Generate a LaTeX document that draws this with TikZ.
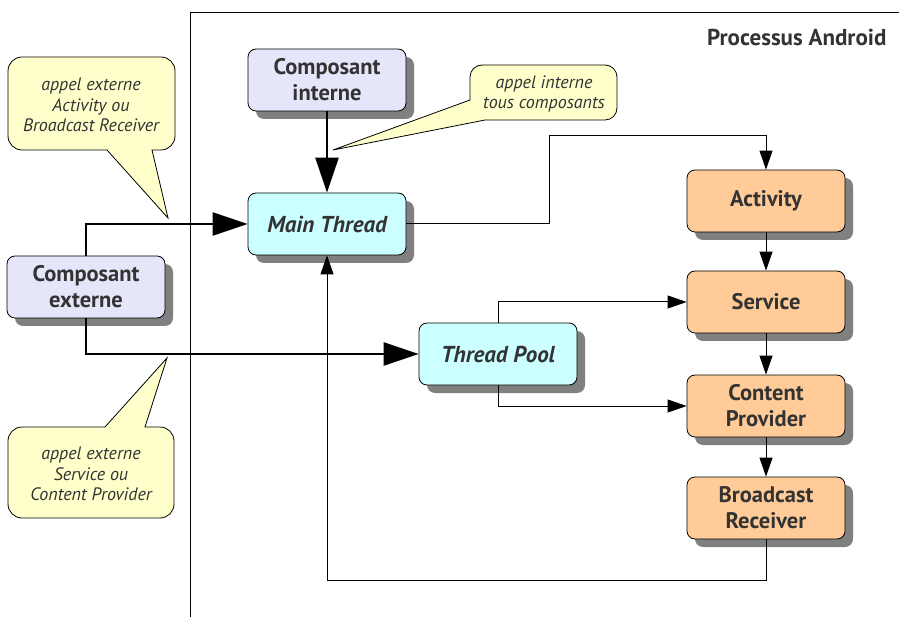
\documentclass[tikz,border=0pt]{standalone}
\usepackage{fontspec}
\setmainfont{PT Sans}
\usetikzlibrary{arrows.meta,shadows}

\definecolor{textgray}{HTML}{333333}
\definecolor{shadowgray}{HTML}{808080}
\definecolor{compblue}{HTML}{E6E6FA}
\definecolor{threadcyan}{HTML}{CCFFFF}
\definecolor{androidorange}{HTML}{FFCC99}
\definecolor{bubbleyellow}{HTML}{FFFFCC}

\begin{document}
\begin{tikzpicture}[x=1pt,y=-1pt]

 \tikzset{
    box/.style={
      rectangle,
      rounded corners=8pt,
      draw=black,
      line width=0.8pt,
      minimum width=158pt,
      minimum height=62pt,
      inner sep=0pt,
      align=center,
      text=textgray,
      font=\fontsize{22.5}{26}\selectfont\bfseries,
      drop shadow={shadow xshift=8pt, shadow yshift=-8pt, fill=shadowgray, opacity=1}
    },
    comp/.style={box, fill=compblue},
    thread/.style={box, fill=threadcyan, font=\fontsize{23}{26}\selectfont\bfseries\itshape},
    android/.style={box, fill=androidorange},
    bubble/.style={draw=black, line width=0.8pt, fill=bubbleyellow},
    bubbletext/.style={align=center, text=textgray, font=\fontsize{18}{20.5}\selectfont\itshape},
    bigarrow/.style={line width=2.5pt, -{Triangle[length=35pt,width=23pt]}},
    smallarrow/.style={line width=1pt, -{Triangle[length=19pt,width=13pt]}}
  }

\useasboundingbox (0,0) rectangle (899,617);

% cadre du processus
\draw[line width=1pt] (190,617) -- (190,13) -- (899,13);
\node[anchor=east, text=textgray, font=\fontsize{23}{26}\selectfont\bfseries] (titre) at (890,37) {Processus Android};

% bulles
\draw[bubble] (91,57) [rounded corners=14pt] -- (175,57) -- (175,150) [sharp corners] -- (152,150)
  -- (168,218) -- (107,150) [rounded corners=14pt] -- (8,150) -- (8,57) -- cycle;
\node[bubbletext] (bulleA) at (91,105) {appel externe\\Activity ou\\Broadcast Receiver};

\draw[bubble] (91,518) [rounded corners=14pt] -- (8,518) -- (8,427) [sharp corners] -- (105,427)
  -- (167,358) -- (145,427) [rounded corners=14pt] -- (174,427) -- (174,518) -- cycle;
\node[bubbletext] (bulleB) at (91,474) {appel externe\\Service ou\\Content Provider};

\draw[bubble] (543,65) [rounded corners=12pt] -- (617,65) -- (617,120) [sharp corners] -- (485,120)
  -- (333,150) -- (470,100) [rounded corners=12pt] -- (470,65) -- cycle;
\node[bubbletext] (bulleC) at (544,94) {appel interne\\tous composants};

% composants
\node[comp] (interne) at (327,80) {Composant\\interne};
\node[comp] (externe) at (86,287) {Composant\\externe};
\node[thread] (main) at (327,224) {Main Thread};
\node[thread] (pool) at (498,354) {Thread Pool};
\node[android] (activity) at (766,201) {Activity};
\node[android] (service) at (766,302) {Service};
\node[android] (provider) at (766,406) {Content\\Provider};
\node[android] (receiver) at (766,508) {Broadcast\\Receiver};

\coordinate (coude) at (549,136);
\coordinate (retour) at (327,580);

% appels
\draw[bigarrow] (interne) -- (main);
\draw[bigarrow] (externe.north) |- (main.west);
\draw[bigarrow] (externe.south) |- (pool.west);

\draw[smallarrow] (main.east) -| (coude) -| (activity.north);
\draw[smallarrow] (activity) -- (service);
\draw[smallarrow] (service) -- (provider);
\draw[smallarrow] (provider) -- (receiver);
\draw[smallarrow] (pool.north) |- (service.west);
\draw[smallarrow] (pool.south) |- (provider.west);
\draw[smallarrow] (receiver.south) |- (retour) -- (main.south);
\end{tikzpicture}
\end{document}
